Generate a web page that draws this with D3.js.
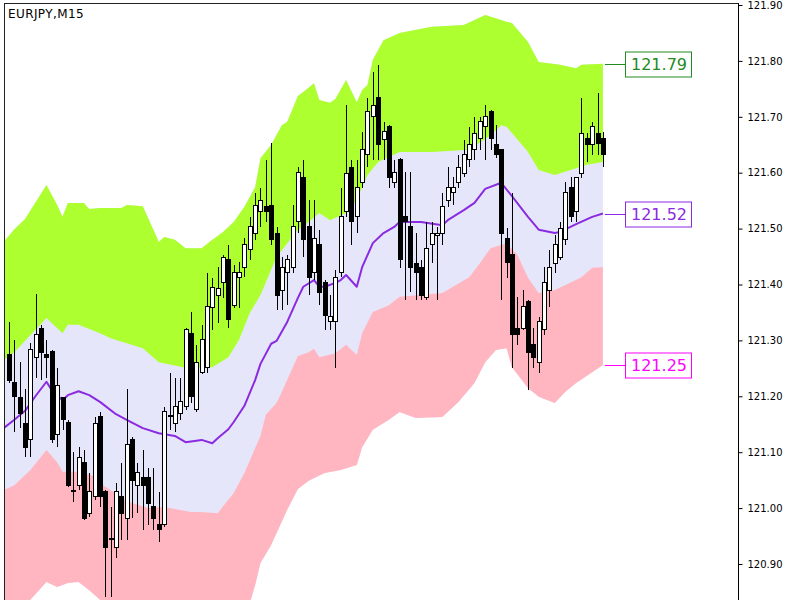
<!DOCTYPE html>
<html>
<head>
<meta charset="utf-8">
<script src="https://cdn.jsdelivr.net/npm/d3@7"></script>
<style>
  html, body { margin: 0; padding: 0; background: #ffffff; }
  svg { display: block; }
  text { font-family: "DejaVu Sans", Verdana, sans-serif; }
</style>
</head>
<body>
<svg id="chart" width="800" height="600"></svg>
<script>
// ---------------- DATA ----------------
const chartTitle = "EURJPY,M15";
const tickValues = [120.90, 121.00, 121.10, 121.20, 121.30, 121.40, 121.50, 121.60, 121.70, 121.80, 121.90];

// candles, bar 1 .. 112
const candleOpen = [121.274,121.224,121.197,121.152,121.122,121.270,121.322,121.274,121.281,121.131,
121.197,121.154,121.031,121.041,121.081,120.991,121.020,121.163,121.029,120.945,
120.930,121.020,120.982,121.122,121.041,121.054,121.054,121.002,120.970,120.970,
121.163,121.152,121.170,121.181,121.313,121.176,121.243,121.251,121.358,121.381,
121.403,121.444,121.363,121.412,121.431,121.462,121.492,121.530,121.539,121.542,
121.492,121.390,121.421,121.431,121.512,121.592,121.503,121.421,121.471,121.403,
121.333,121.333,121.421,121.530,121.610,121.521,121.582,121.632,121.700,121.734,
121.659,121.682,121.582,121.623,121.521,121.503,121.438,121.431,121.376,121.471,
121.487,121.492,121.551,121.564,121.582,121.599,121.623,121.641,121.662,121.682,
121.710,121.651,121.641,121.483,121.453,121.322,121.322,121.369,121.292,121.260,
121.319,121.390,121.438,121.449,121.480,121.573,121.530,121.599,121.662,121.650,
121.671,121.662];
const candleHigh = [121.333,121.301,121.261,121.213,121.295,121.383,121.328,121.301,121.283,121.251,
121.199,121.158,121.100,121.109,121.104,121.063,121.163,121.172,121.032,121.002,
121.045,121.081,121.213,121.127,121.081,121.104,121.072,121.072,121.029,121.181,
121.242,121.233,121.233,121.322,121.351,121.292,121.328,121.421,121.412,121.431,
121.453,121.471,121.435,121.440,121.483,121.521,121.564,121.573,121.623,121.653,
121.503,121.449,121.453,121.542,121.610,121.623,121.551,121.551,121.498,121.408,
121.381,121.426,121.573,121.721,121.623,121.623,121.673,121.734,121.780,121.793,
121.691,121.685,121.623,121.626,121.601,121.601,121.492,121.444,121.512,121.512,
121.503,121.564,121.610,121.592,121.632,121.659,121.682,121.700,121.700,121.721,
121.712,121.685,121.641,121.501,121.564,121.378,121.390,121.372,121.322,121.342,
121.431,121.462,121.489,121.512,121.583,121.592,121.592,121.734,121.671,121.691,
121.743,121.673];
const candleLow = [121.224,121.136,121.143,121.091,121.091,121.233,121.229,121.233,121.116,121.109,
121.140,121.038,121.011,121.032,120.979,120.984,121.015,121.002,120.841,120.841,
120.911,120.943,120.943,120.982,120.991,120.961,120.970,120.961,120.939,120.966,
121.140,121.136,121.158,121.176,121.188,121.172,121.240,121.242,121.319,121.331,
121.376,121.322,121.358,121.358,121.413,121.444,121.480,121.503,121.512,121.471,
121.354,121.354,121.363,121.421,121.492,121.449,121.381,121.408,121.363,121.319,
121.319,121.251,121.413,121.521,121.471,121.492,121.573,121.610,121.623,121.623,
121.623,121.573,121.573,121.430,121.372,121.387,121.372,121.372,121.372,121.438,
121.372,121.471,121.539,121.542,121.573,121.592,121.610,121.623,121.641,121.623,
121.641,121.626,121.372,121.412,121.251,121.292,121.319,121.211,121.251,121.242,
121.310,121.360,121.421,121.444,121.471,121.512,121.512,121.591,121.619,121.632,
121.632,121.610];
const candleClose = [121.229,121.199,121.170,121.109,121.283,121.310,121.279,121.270,121.122,121.220,
121.158,121.041,121.029,121.091,120.982,121.029,121.152,121.020,120.930,120.943,
121.029,120.991,121.113,121.050,121.063,121.041,121.009,120.982,120.961,121.172,
121.165,121.181,121.190,121.319,121.199,121.261,121.301,121.360,121.394,121.392,
121.449,121.337,121.421,121.421,121.471,121.503,121.542,121.551,121.530,121.480,
121.381,121.431,121.444,121.503,121.601,121.480,121.413,121.483,121.385,121.345,
121.342,121.412,121.521,121.599,121.512,121.573,121.641,121.709,121.721,121.650,
121.673,121.591,121.601,121.444,121.512,121.431,121.421,121.381,121.465,121.492,
121.492,121.539,121.573,121.573,121.610,121.632,121.650,121.671,121.691,121.701,
121.662,121.632,121.492,121.440,121.310,121.310,121.360,121.279,121.270,121.333,
121.403,121.431,121.471,121.501,121.564,121.521,121.591,121.671,121.650,121.682,
121.653,121.632];

// band envelopes, read at bar positions
const upperIdx = [0,2,4,8,10,11,12,15,16,18,22,23,26,27,29,30,32,34,37,39,41,43,45,47,48,50,52,53,55,57,58,59,61,62,64,66,67,68,69,71,74,80,86,90,94,95,98,100,104,107,108,112];
const upperVal = [121.476,121.499,121.517,121.578,121.542,121.521,121.546,121.546,121.535,121.537,121.537,121.542,121.540,121.519,121.476,121.485,121.480,121.465,121.465,121.480,121.494,121.512,121.539,121.574,121.626,121.650,121.685,121.691,121.737,121.752,121.760,121.730,121.725,121.732,121.766,121.726,121.748,121.757,121.802,121.837,121.850,121.861,121.864,121.882,121.870,121.868,121.834,121.798,121.793,121.787,121.793,121.795];

const innerUpperIdx = [0,2,8,11,12,14,18,20,26,29,34,39,42,44,46,48,51,55,57,59,61,64,66,68,70,74,80,87,91,93,94,95,98,100,103,106,109,112];
const innerUpperVal = [121.265,121.279,121.340,121.313,121.328,121.328,121.313,121.304,121.286,121.261,121.251,121.252,121.270,121.301,121.349,121.381,121.449,121.498,121.512,121.528,121.515,121.528,121.551,121.596,121.619,121.637,121.637,121.641,121.667,121.685,121.682,121.671,121.637,121.605,121.596,121.605,121.614,121.619];

const maIdx = [0,2,4,6,8,9,11,12,14,16,18,21,23,26,29,32,34,37,39,40,42,43,45,47,48,50,51,53,55,56,58,59,60,62,63,64,66,67,69,71,73,74,78,82,83,86,88,90,93,95,98,100,103,104,107,110,112];
const maVal = [121.143,121.158,121.174,121.201,121.226,121.211,121.193,121.202,121.209,121.202,121.190,121.168,121.158,121.143,121.134,121.129,121.118,121.122,121.116,121.125,121.141,121.154,121.183,121.229,121.258,121.294,121.299,121.333,121.376,121.396,121.408,121.396,121.396,121.403,121.408,121.417,121.396,121.431,121.474,121.492,121.503,121.512,121.512,121.506,121.515,121.533,121.546,121.571,121.582,121.558,121.521,121.498,121.492,121.494,121.508,121.521,121.527];

const innerLowerIdx = [0,2,5,8,10,11,14,17,18,20,24,27,30,35,37,40,43,45,48,49,51,52,55,57,58,59,62,64,66,67,69,72,74,82,87,89,91,94,96,98,100,103,105,108,110,112];
const innerLowerVal = [121.032,121.041,121.068,121.104,121.082,121.065,121.065,121.057,121.045,121.032,121.009,121.000,121.002,120.993,120.993,120.991,121.027,121.063,121.129,121.167,121.188,121.208,121.272,121.279,121.285,121.270,121.277,121.292,121.274,121.313,121.351,121.363,121.378,121.385,121.413,121.438,121.465,121.474,121.453,121.412,121.385,121.390,121.399,121.413,121.430,121.431];

const lowerIdx = [0,4,5,8,10,12,14,16,18,22,30,37,43,46,47,48,50,53,55,57,60,63,66,67,69,72,74,77,82,85,88,90,92,94,95,98,100,103,105,107,110,112];
const lowerVal = [120.810,120.825,120.836,120.868,120.859,120.866,120.868,120.853,120.836,120.780,120.780,120.780,120.800,120.830,120.862,120.902,120.934,120.997,121.034,121.049,121.063,121.068,121.077,121.109,121.140,121.158,121.172,121.161,121.163,121.190,121.224,121.261,121.283,121.286,121.252,121.215,121.199,121.188,121.208,121.224,121.243,121.256];

const labelTexts = ["121.79", "121.52", "121.25"];

// ---------------- DRAW ----------------
const svg = d3.select("#chart");
const plotLeft = 4, plotTop = 3, plotRight = 738, plotBottom = 600;

const x = d3.scaleLinear().domain([1, 112]).range([9, 602.9]);
const y = d3.scaleLinear().domain([120.90, 121.90]).range([564, 5]);

svg.append("defs").append("clipPath").attr("id", "plotClip")
  .append("rect").attr("x", plotLeft + 0.5).attr("y", plotTop + 0.5)
  .attr("width", plotRight - plotLeft - 1).attr("height", plotBottom - plotTop);

const plot = svg.append("g").attr("clip-path", "url(#plotClip)");

const pts = (idx, val) => idx.map((d, i) => [x(d), y(val[i])]);
const upperPts = pts(upperIdx, upperVal);
const innerUpperPts = pts(innerUpperIdx, innerUpperVal);
const innerLowerPts = pts(innerLowerIdx, innerLowerVal);
const lowerPts = pts(lowerIdx, lowerVal);
const maPts = pts(maIdx, maVal);

const line = d3.line();
const poly = (a, b) => line(a.concat(b.slice().reverse())) + "Z";

plot.append("path").attr("d", poly(upperPts, lowerPts)).attr("fill", "#e6e6fa");
plot.append("path").attr("d", poly(upperPts, innerUpperPts)).attr("fill", "#adff2f");
plot.append("path").attr("d", poly(innerLowerPts, lowerPts)).attr("fill", "#ffb6c1");

plot.append("path").attr("d", line(maPts)).attr("fill", "none")
  .attr("stroke", "#8a2be2").attr("stroke-width", 2).attr("stroke-linejoin", "round");

// candles
const bars = d3.range(112).map(i => ({
  i: i + 1, o: candleOpen[i], h: candleHigh[i], l: candleLow[i], c: candleClose[i]
}));
const cg = plot.append("g").attr("shape-rendering", "crispEdges");
bars.forEach(b => {
  const cx = Math.round(x(b.i));
  cg.append("line").attr("x1", cx + 0.5).attr("x2", cx + 0.5)
    .attr("y1", y(b.h)).attr("y2", y(b.l)).attr("stroke", "#000").attr("stroke-width", 1);
  const top = y(Math.max(b.o, b.c)), bot = y(Math.min(b.o, b.c));
  const bull = b.c >= b.o;
  cg.append("rect").attr("x", cx - 1.5).attr("width", 4)
    .attr("y", top).attr("height", Math.max(1, bot - top))
    .attr("fill", bull ? "#ffffff" : "#000000").attr("stroke", "#000").attr("stroke-width", 1);
});

// value labels at band ends
const lastX = x(112);
const labelSpecs = [
  { text: labelTexts[0], v: upperVal[upperVal.length - 1], color: "#228b22" },
  { text: labelTexts[1], v: maVal[maVal.length - 1], color: "#8a2be2" },
  { text: labelTexts[2], v: lowerVal[lowerVal.length - 1], color: "#ff00ff" }
];
labelSpecs.forEach(s => {
  const yy = Math.round(y(s.v)) + 0.5;
  const g = svg.append("g");
  g.append("line").attr("x1", lastX + 2).attr("x2", 625.5).attr("y1", yy).attr("y2", yy)
    .attr("stroke", s.color).attr("stroke-width", 1);
  g.append("rect").attr("x", 625.5).attr("y", yy - 12.5).attr("width", 66).attr("height", 25)
    .attr("fill", "#ffffff").attr("stroke", s.color).attr("stroke-width", 1);
  g.append("text").attr("x", 631).attr("y", yy).attr("dy", "0.36em")
    .attr("fill", s.color).attr("font-size", "16px").text(s.text);
});

// frame
svg.append("line").attr("x1", plotLeft + 0.5).attr("x2", plotLeft + 0.5)
  .attr("y1", plotTop).attr("y2", plotBottom).attr("stroke", "#222").attr("stroke-width", 1);
svg.append("line").attr("x1", plotLeft).attr("x2", plotRight)
  .attr("y1", plotTop + 0.5).attr("y2", plotTop + 0.5).attr("stroke", "#222").attr("stroke-width", 1);

// right price axis
const axis = d3.axisRight(y).tickValues(tickValues).tickSize(4).tickPadding(5)
  .tickFormat(d3.format(".2f"));
const ag = svg.append("g").attr("transform", `translate(${plotRight + 0.5},0)`).call(axis);
ag.select(".domain").remove();
ag.selectAll(".tick line").attr("stroke", "#000");
ag.selectAll(".tick text").attr("fill", "#000").attr("font-size", "10px")
  .attr("font-family", "'DejaVu Sans', Verdana, sans-serif");
svg.append("line").attr("x1", plotRight + 0.5).attr("x2", plotRight + 0.5)
  .attr("y1", plotTop).attr("y2", plotBottom).attr("stroke", "#000").attr("stroke-width", 1);

// title
svg.append("text").attr("x", 8).attr("y", 18).attr("font-size", "12px")
  .attr("letter-spacing", "0.4px").attr("fill", "#000").text(chartTitle);
</script>
</body>
</html>
